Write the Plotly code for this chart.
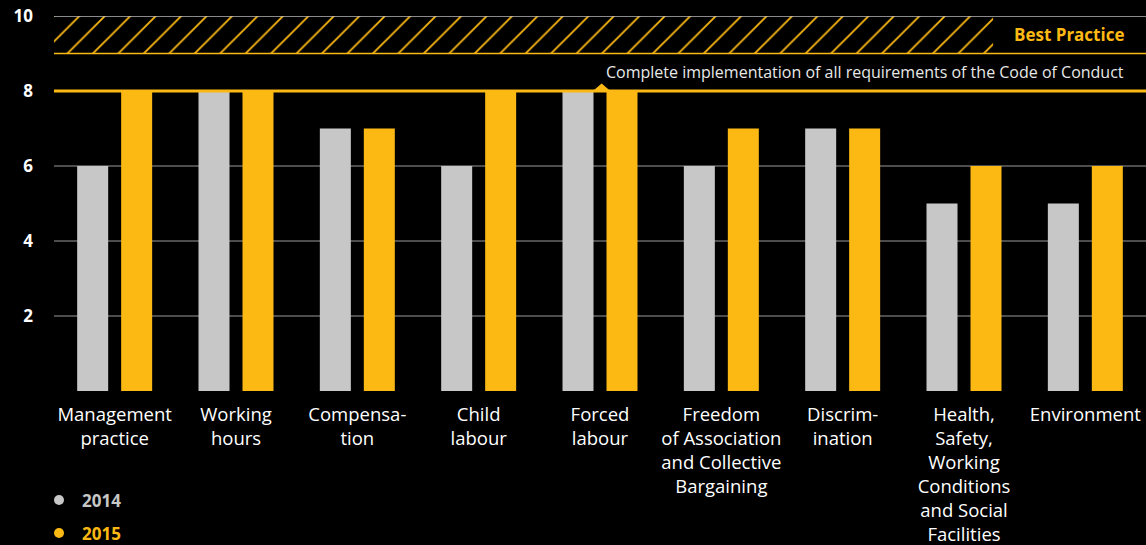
import plotly.graph_objects as go

categories = ["Management<br>practice", "Working<br>hours", "Compensa-<br>tion", "Child<br>labour",
              "Forced<br>labour", "Freedom<br>of Association<br>and Collective<br>Bargaining",
              "Discrim-<br>ination", "Health,<br>Safety,<br>Working<br>Conditions<br>and Social<br>Facilities",
              "Environment"]
values_2014 = [6, 8, 7, 6, 8, 6, 7, 5, 5]
values_2015 = [8, 8, 7, 8, 8, 7, 7, 6, 6]
ytick_vals = [2, 4, 6, 8, 10]
ytick_text = ["2", "4", "6", "8", "10"]

GREY = "#c6c7c6"
ORANGE = "#fdb913"
FONT = "Open Sans"

fig = go.Figure()
fig.add_trace(go.Bar(x=categories, y=values_2014, name="2014", marker=dict(color=GREY, line_width=0)))
fig.add_trace(go.Bar(x=categories, y=values_2015, name="2015", marker=dict(color=ORANGE, line_width=0)))

# hatched best-practice band (paper-ish x via overlay axis)
fig.add_trace(go.Scatter(x=[0, 0.86, 0.86, 0, 0], y=[9, 9, 10, 10, 9], xaxis="x2",
                         mode="lines", line=dict(width=0), fill="toself",
                         fillcolor="rgba(0,0,0,0)",
                         fillpattern=dict(shape="/", fgcolor=ORANGE, fgopacity=1, bgcolor="black",
                                          size=18, solidity=0.1),
                         hoverinfo="skip", showlegend=False))

shapes = []
for v in [2, 4, 6]:
    shapes.append(dict(type="line", xref="paper", x0=0, x1=1, yref="y", y0=v, y1=v,
                       line=dict(color="#9a9a9a", width=1), layer="below"))
shapes.append(dict(type="line", xref="paper", x0=0, x1=1, yref="y", y0=10, y1=10,
                   line=dict(color="#b8b8b8", width=1.5)))
shapes.append(dict(type="line", xref="paper", x0=0, x1=1, yref="y", y0=9, y1=9,
                   line=dict(color=ORANGE, width=1.5)))
shapes.append(dict(type="line", xref="paper", x0=0, x1=1, yref="y", y0=8, y1=8,
                   line=dict(color=ORANGE, width=3)))
shapes.append(dict(type="line", xref="paper", x0=0, x1=1, yref="y", y0=-0.05, y1=-0.05,
                   line=dict(color="#b8b8b8", width=2)))
# small triangle marker
shapes.append(dict(type="path", xref="paper", yref="y",
                   path="M 0.4935 8 L 0.5015 8.2 L 0.5095 8 Z", fillcolor=ORANGE, line=dict(width=0)))
# legend dots
for yy, col in [(-0.2907, GREY), (-0.3787, ORANGE)]:
    shapes.append(dict(type="circle", xref="paper", yref="paper", xsizemode="pixel", ysizemode="pixel",
                       xanchor=0.0046, yanchor=yy, x0=-5, x1=5, y0=-5, y1=5,
                       fillcolor=col, line=dict(width=0)))

annotations = [
    dict(text="Best Practice", xref="paper", yref="y", x=0.982, y=9.5, xanchor="right", yanchor="middle",
         showarrow=False, font=dict(family=FONT, size=17, color=ORANGE, weight="bold")),
    dict(text="Complete implementation of all requirements of the Code of Conduct", xref="paper", yref="y",
         x=0.982, y=8.5, xanchor="right", yanchor="middle", showarrow=False,
         font=dict(family=FONT, size=16, color="#e8e8e8")),
    dict(text="2014", xref="paper", yref="paper", x=0.024, y=-0.291, xanchor="left", yanchor="middle",
         showarrow=False, font=dict(family=FONT, size=17, color=GREY, weight="bold")),
    dict(text="2015", xref="paper", yref="paper", x=0.024, y=-0.380, xanchor="left", yanchor="middle",
         showarrow=False, font=dict(family=FONT, size=17, color=ORANGE, weight="bold")),
]

fig.update_layout(
    width=1146, height=545,
    paper_bgcolor="black", plot_bgcolor="black",
    margin=dict(l=54, r=0, t=16, b=154),
    barmode="group", bargap=0.275, bargroupgap=0.295,
    showlegend=False,
    shapes=shapes, annotations=annotations,
    font=dict(family=FONT, color="white"),
    xaxis=dict(showgrid=False, zeroline=False, showline=False, ticks="", ticklabelstandoff=10,
               tickfont=dict(family=FONT, size=18.5, color="white")),
    xaxis2=dict(overlaying="x", range=[0, 1], visible=False),
    yaxis=dict(range=[0, 10], tickvals=ytick_vals, ticktext=ytick_text, showgrid=False,
               zeroline=False, showline=False, ticks="", ticklabelstandoff=20,
               tickfont=dict(family=FONT, size=17, color="white", weight="bold")),
)

fig.write_html("out.html", config={"displayModeBar": False},
               post_script="document.body.style.margin='0';document.body.style.background='black';")
